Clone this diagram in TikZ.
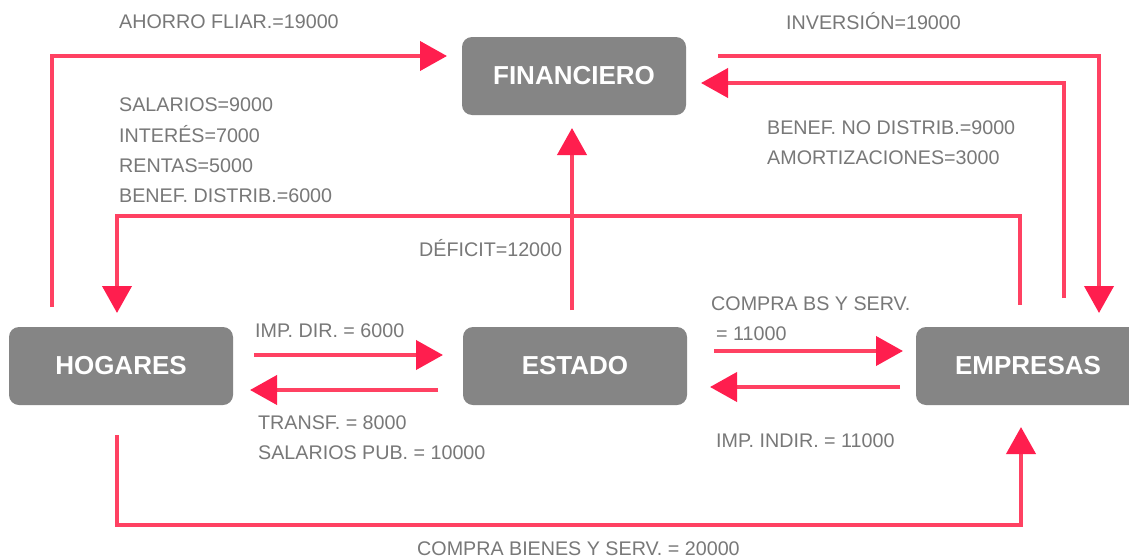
\documentclass[tikz,border=0pt]{standalone}
\usepackage{fontspec}
\setmainfont{Liberation Sans}
\usetikzlibrary{arrows.meta}
\definecolor{boxc}{HTML}{858585}
\definecolor{linec}{HTML}{FF4162}
\definecolor{tipc}{HTML}{FF1E4E}
\definecolor{txtc}{HTML}{787878}
\begin{document}
\begin{tikzpicture}[x=1pt,y=-1pt,
  sector/.style={fill=boxc, rounded corners=10pt, minimum width=224pt, minimum height=78pt,
    inner sep=0pt, text=white, font=\fontsize{26}{30}\selectfont\bfseries},
  lbl/.style={anchor=base west, inner sep=0pt, text=txtc, font=\fontsize{19.7}{24}\selectfont},
  flow/.style={draw=linec, line width=4pt, -{Triangle[length=27pt,width=29pt,color=tipc]}}]
\clip (0,0) rectangle (1129,557);
\fill[white] (0,0) rectangle (1129,557);
% sectors
\node[sector] (fin) at (574,76) {FINANCIERO};
\node[sector] (hog) at (121,366) {HOGARES};
\node[sector] (est) at (575,366) {ESTADO};
\node[sector] (emp) at (1028,366) {EMPRESAS};
% connector end points
\coordinate (ahA) at (52,307);  \coordinate (ahB) at (52,56);   \coordinate (ahC) at (447,56);
\coordinate (inA) at (718,56);  \coordinate (inB) at (1099,56); \coordinate (inC) at (1099,313);
\coordinate (bnA) at (1064,298);\coordinate (bnB) at (1064,83); \coordinate (bnC) at (701,83);
\coordinate (slA) at (1020,305);\coordinate (slB) at (1020,216);\coordinate (slC) at (117,216); \coordinate (slD) at (117,313);
\coordinate (dfA) at (572,310); \coordinate (dfB) at (572,128);
\coordinate (idA) at (254,355); \coordinate (idB) at (443,355);
\coordinate (trA) at (438,390); \coordinate (trB) at (250,390);
\coordinate (cbA) at (714,351); \coordinate (cbB) at (903,351);
\coordinate (iiA) at (900,387); \coordinate (iiB) at (710,387);
\coordinate (cgA) at (117,435); \coordinate (cgB) at (117,525); \coordinate (cgC) at (1021,525); \coordinate (cgD) at (1021,427);
% connectors
\draw[flow] (ahA) -- (ahB) -- (ahC);
\draw[flow] (inA) -- (inB) -- (inC);
\draw[flow] (bnA) -- (bnB) -- (bnC);
\draw[flow] (slA) -- (slB) -- (slC) -- (slD);
\draw[flow] (dfA) -- (dfB);
\draw[flow] (idA) -- (idB);
\draw[flow] (trA) -- (trB);
\draw[flow] (cbA) -- (cbB);
\draw[flow] (iiA) -- (iiB);
\draw[flow] (cgA) -- (cgB) -- (cgC) -- (cgD);
% labels
\node[lbl] (t1) at (119,28) {AHORRO FLIAR.=19000};
\node[lbl] (t2) at (786,29) {INVERSIÓN=19000};
\node[lbl] (t3) at (119,111) {SALARIOS=9000};
\node[lbl] (t4) at (119,142) {INTERÉS=7000};
\node[lbl] (t5) at (119,172) {RENTAS=5000};
\node[lbl] (t6) at (119,202) {BENEF. DISTRIB.=6000};
\node[lbl] (t7) at (767,134) {BENEF. NO DISTRIB.=9000};
\node[lbl] (t8) at (767,164) {AMORTIZACIONES=3000};
\node[lbl] (t9) at (419,256) {DÉFICIT=12000};
\node[lbl] (t10) at (255,337) {IMP. DIR. = 6000};
\node[lbl] (t11) at (258,429) {TRANSF. = 8000};
\node[lbl] (t12) at (258,459) {SALARIOS PUB. = 10000};
\node[lbl] (t13) at (711,310) {COMPRA BS Y SERV.};
\node[lbl] (t14) at (716,340) {= 11000};
\node[lbl] (t15) at (716,447) {IMP. INDIR. = 11000};
\node[lbl] (t16) at (417,555) {COMPRA BIENES Y SERV. = 20000};
\end{tikzpicture}
\end{document}
